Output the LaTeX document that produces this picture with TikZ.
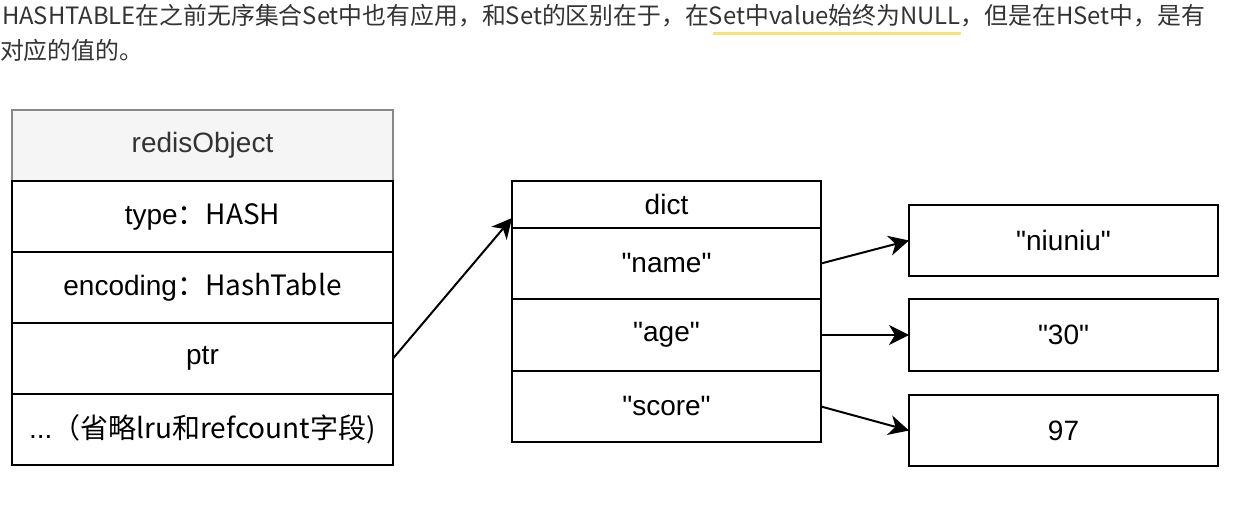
\documentclass[tikz,border=0pt]{standalone}
\usepackage{fontspec}
\newfontfamily\diagfont{Liberation Sans}
\newfontfamily\cjk{Noto Sans CJK SC}
\usetikzlibrary{arrows.meta}
\definecolor{txtgray}{HTML}{333333}
\definecolor{hdrfill}{HTML}{F5F5F5}
\definecolor{hdrline}{HTML}{888888}
\definecolor{hilite}{HTML}{FADF7A}
\begin{document}
\begin{tikzpicture}[x=1pt,y=-1pt,
  cell/.style={draw=black, line width=2pt, rectangle, inner sep=0pt, outer sep=0pt,
    font=\diagfont\fontsize{28}{32}\selectfont, text=black},
  objcell/.style={cell, minimum width=381pt, minimum height=71pt},
  hdrcell/.style={objcell, fill=hdrfill, draw=hdrline, text=txtgray},
  dictcell/.style={cell, minimum width=309pt, minimum height=71pt},
  valcell/.style={cell, minimum width=309pt, minimum height=71pt},
  conn/.style={line width=2pt, -{Stealth[length=20pt,width=20pt,inset=6pt]}},
  para/.style={font=\cjk\fontsize{23.85}{28}\selectfont, text=txtgray, inner sep=0pt, outer sep=0pt, anchor=base west}
]
\useasboundingbox (0,0) rectangle (1241,510);
\fill[white] (0,0) rectangle (1241,510);

% top paragraph
\node[para] (line1a) at (2,25) {HASHTABLE在之前无序集合Set中也有应用，和Set的区别在于，在};
\node[para] (line1b) at (line1a.base east) {Set中value始终为NULL};
\node[para] (line1c) at (line1b.base east) {，但是在HSet中，是有};
\node[para] (line2) at (0,60) {对应的值的。};
\fill[hilite] ([xshift=4pt,yshift=-7pt]line1b.base west) rectangle ([yshift=-10pt]line1b.base east);

% redisObject
\node[hdrcell] (hdr) at (202.5,145.5) {redisObject};
\node[objcell] (type) at (202.5,216.5) {type\cjk{：}HASH};
\node[objcell] (enc) at (202.5,287.5) {encoding\cjk{：}HashTable};
\node[objcell] (ptr) at (202.5,358.5) {ptr};
\node[objcell] (more) at (202.5,429.5) {...\cjk{（省略}lru\cjk{和}refcount\cjk{字段})};

% dict
\node[dictcell, minimum height=47pt] (dict) at (666.5,204.5) {dict};
\node[dictcell] (name) at (666.5,263.5) {"name"};
\node[dictcell, minimum height=72pt] (age) at (666.5,335) {"age"};
\node[dictcell] (score) at (666.5,406.5) {"score"};

% values
\node[valcell] (niuniu) at (1063.5,240.5) {"niuniu"};
\node[valcell, minimum height=72pt] (v30) at (1063.5,335) {"30"};
\node[valcell] (v97) at (1063.5,430.5) {97};

\coordinate (dictin) at (512,218);
\draw[conn] (ptr.east) -- (dictin);
\draw[conn] (name.east) -- (niuniu.west);
\draw[conn] (age.east) -- (v30.west);
\draw[conn] (score.east) -- (v97.west);
\end{tikzpicture}
\end{document}
